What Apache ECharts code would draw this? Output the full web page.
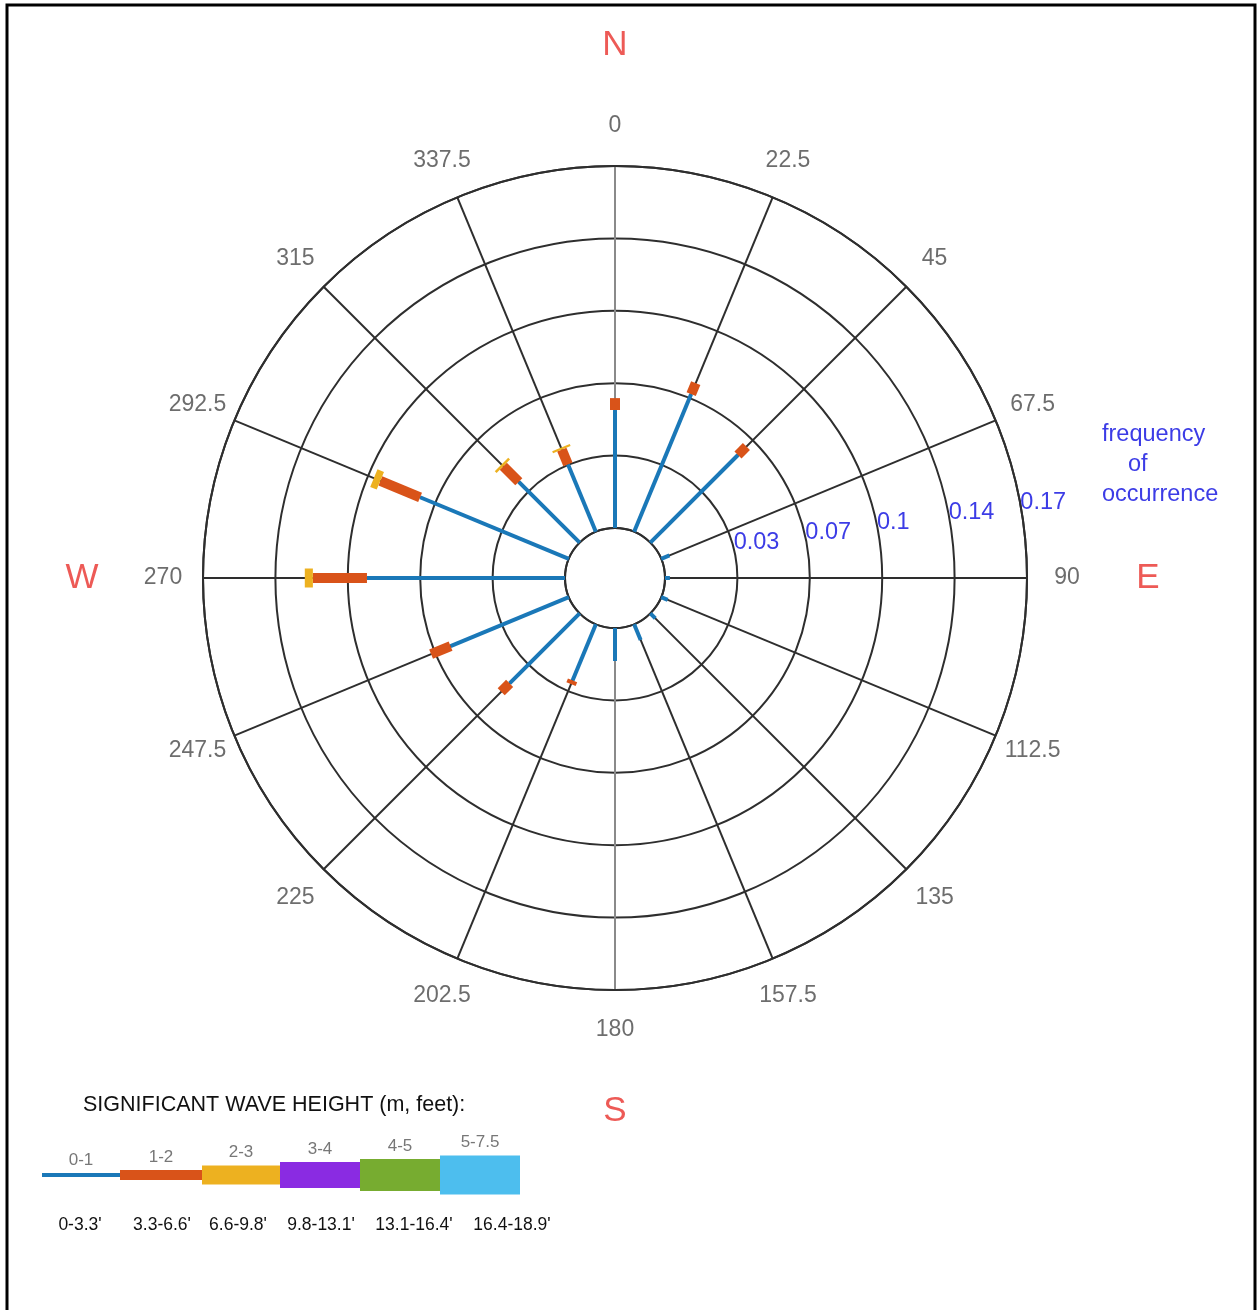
<!DOCTYPE html>
<html><head><meta charset="utf-8">
<script src="https://cdn.jsdelivr.net/npm/echarts@6/dist/echarts.min.js"></script>
<style>html,body{margin:0;padding:0;background:#fff}#c{width:1257px;height:1310px}</style>
</head><body><div id="c"></div>
<script>
// ---------- data ----------
const directions = [0, 22.5, 45, 67.5, 90, 112.5, 135, 157.5, 180, 202.5, 225, 247.5, 270, 292.5, 315, 337.5];
const angleTickLabels = ['0', '22.5', '45', '67.5', '90', '112.5', '135', '157.5', '180', '202.5', '225', '247.5', '270', '292.5', '315', '337.5'];
const compassLabels = ['N', 'E', 'S', 'W'];
const compassAngles = [0, 90, 180, 270];
const radialTickLabels = ['0.03', '0.07', '0.1', '0.14', '0.17'];
const heightBins = ['0-1', '1-2', '2-3', '3-4', '4-5', '5-7.5'];
const feetLabels = ["0-3.3'", "3.3-6.6'", "6.6-9.8'", "9.8-13.1'", "13.1-16.4'", "16.4-18.9'"];
// frequency of occurrence per direction, per wave height bin
const freq0to1 = [0.0554, 0.0700, 0.0582, 0.0042, 0.0023, 0.0033, 0.0033, 0.0080, 0.0155, 0.0286, 0.0465, 0.0601, 0.0930, 0.0756, 0.0404, 0.0343];
const freq1to2 = [0.0056, 0.0056, 0.0056, 0, 0, 0, 0, 0, 0, 0.0019, 0.0056, 0.0099, 0.0254, 0.0202, 0.0103, 0.0075];
const freq2to3 = [0, 0, 0, 0, 0, 0, 0, 0, 0, 0, 0, 0, 0.0038, 0.0033, 0.0012, 0.0010];
const freq3to4 = [0, 0, 0, 0, 0, 0, 0, 0, 0, 0, 0, 0, 0, 0, 0, 0];
const freq4to5 = [0, 0, 0, 0, 0, 0, 0, 0, 0, 0, 0, 0, 0, 0, 0, 0];
const freq5to75 = [0, 0, 0, 0, 0, 0, 0, 0, 0, 0, 0, 0, 0, 0, 0, 0];

// ---------- styles ----------
const binSeries = [freq0to1, freq1to2, freq2to3, freq3to4, freq4to5, freq5to75];
const binColors = ['#1a78b8', '#d95319', '#edb120', '#8a2be2', '#77ac30', '#4dbeee'];
const binWidths = [4, 10, 19, 26, 32, 39];
const FONT = 'Liberation Sans, Arial, sans-serif';
const CX = 615, CY = 578, R0 = 50, R1 = 412, RL = 533;
const RMAX = 0.17, RSTEP = 0.034;
const ANGLE_LABEL_R = 452 / 533;

const chart = echarts.init(document.getElementById('c'), null, { renderer: 'canvas' });

function binSeriesOption(b) {
  const data = [];
  directions.forEach((d, i) => {
    let start = 0;
    for (let k = 0; k < b; k++) start += binSeries[k][i];
    const v = binSeries[b][i];
    if (v > 0) data.push([d, start, start + v]);
  });
  return {
    type: 'custom',
    name: heightBins[b],
    coordinateSystem: 'polar',
    polarIndex: 0,
    silent: true,
    encode: { angle: 0, radius: [1, 2] },
    data: data,
    z: 5 + b,
    renderItem: function (params, api) {
      const a = api.value(0), s = api.value(1), e = api.value(2);
      const p0 = api.coord([s, a]);
      const p1 = api.coord([e, a]);
      let dx = p1[0] - p0[0], dy = p1[1] - p0[1];
      const len = Math.sqrt(dx * dx + dy * dy) || 1;
      dx /= len; dy /= len;
      const hw = binWidths[b] / 2;
      const nx = -dy * hw, ny = dx * hw;
      return {
        type: 'polygon',
        shape: { points: [[p0[0] + nx, p0[1] + ny], [p1[0] + nx, p1[1] + ny], [p1[0] - nx, p1[1] - ny], [p0[0] - nx, p0[1] - ny]] },
        style: { fill: binColors[b] }
      };
    }
  };
}

const spokeColors = directions.map(d => (d === 0 || d === 180) ? '#8a8a8a' : '#2e2e2e');

const series = [];
for (let b = 0; b < binSeries.length; b++) series.push(binSeriesOption(b));

// angle tick labels and compass letters on the label polar
series.push({
  type: 'scatter', coordinateSystem: 'polar', polarIndex: 2, silent: true,
  symbolSize: 1, itemStyle: { color: 'rgba(0,0,0,0)' },
  data: directions.map((d, i) => ({ value: [ANGLE_LABEL_R, d], name: angleTickLabels[i] })),
  label: { show: true, position: 'inside', formatter: p => p.name, color: '#484848', fontSize: 23, fontFamily: FONT }
});
series.push({
  type: 'scatter', coordinateSystem: 'polar', polarIndex: 2, silent: true,
  symbolSize: 1, itemStyle: { color: 'rgba(0,0,0,0)' },
  data: compassAngles.map((d, i) => ({ value: [1, d], name: compassLabels[i] })),
  label: { show: true, position: 'inside', formatter: p => p.name, color: '#e8312c', fontSize: 35, fontFamily: FONT }
});

// legend graphics
const legendEdges = [42, 120, 202, 280, 360, 440, 520];
const legendCY = 1175;
const feetX = [80, 162, 238, 321, 414, 512];
const BLUE = '#3c3ce6';
const graphic = [
  { type: 'rect', silent: true, shape: { x: 7, y: 5, width: 1248, height: 1340 }, style: { fill: null, stroke: '#000', lineWidth: 3 } },
  { type: 'text', silent: true, x: 1102, y: 435, style: { text: 'frequency', font: '23.5px ' + FONT, fill: BLUE, verticalAlign: 'middle' } },
  { type: 'text', silent: true, x: 1128, y: 465, style: { text: 'of', font: '23.5px ' + FONT, fill: BLUE, verticalAlign: 'middle' } },
  { type: 'text', silent: true, x: 1102, y: 495, style: { text: 'occurrence', font: '23.5px ' + FONT, fill: BLUE, verticalAlign: 'middle' } },
  { type: 'text', silent: true, x: 83, y: 1105, style: { text: 'SIGNIFICANT WAVE HEIGHT (m, feet):', font: '21.5px ' + FONT, fill: '#111', verticalAlign: 'middle' } }
];
heightBins.forEach((lab, i) => {
  const x0 = legendEdges[i], x1 = legendEdges[i + 1], h = binWidths[i];
  graphic.push({ type: 'rect', silent: true, shape: { x: x0, y: legendCY - h / 2, width: x1 - x0, height: h }, style: { fill: binColors[i] } });
  graphic.push({ type: 'text', silent: true, x: (x0 + x1) / 2, y: legendCY - h / 2 - 13, style: { text: lab, font: '17px ' + FONT, fill: '#777', align: 'center', verticalAlign: 'middle' } });
  graphic.push({ type: 'text', silent: true, x: feetX[i], y: 1225, style: { text: feetLabels[i], font: '17.5px ' + FONT, fill: '#111', align: 'center', verticalAlign: 'middle' } });
});

const option = {
  animation: false,
  backgroundColor: '#ffffff',
  polar: [
    { center: [CX, CY], radius: [R0, R1] },
    { center: [CX, CY], radius: [R0, R1] },
    { center: [CX, CY], radius: [0, RL] }
  ],
  angleAxis: [
    {
      polarIndex: 0, type: 'value', min: 0, max: 360, interval: 22.5, startAngle: 90, clockwise: true,
      axisLine: { show: true, lineStyle: { color: '#2e2e2e', width: 2 } },
      axisTick: { show: false }, axisLabel: { show: false },
      splitLine: { show: true, lineStyle: { color: spokeColors, width: 2 } }
    },
    { polarIndex: 1, type: 'value', min: 0, max: 360, startAngle: 8.1, show: false },
    { polarIndex: 2, type: 'value', min: 0, max: 360, startAngle: 90, clockwise: true, show: false }
  ],
  radiusAxis: [
    {
      polarIndex: 0, type: 'value', min: 0, max: RMAX, interval: RSTEP,
      axisLine: { show: false }, axisTick: { show: false }, axisLabel: { show: false },
      splitLine: { show: true, lineStyle: { color: '#2e2e2e', width: 2 } }
    },
    {
      polarIndex: 1, type: 'value', min: 0, max: RMAX, interval: RSTEP,
      axisLine: { show: false }, axisTick: { show: false }, splitLine: { show: false },
      axisLabel: {
        show: true, showMinLabel: false, align: 'left', verticalAlign: 'middle', margin: 18,
        color: BLUE, fontSize: 23.5, fontFamily: FONT,
        formatter: v => radialTickLabels[Math.round(v / RSTEP) - 1] || ''
      }
    },
    { polarIndex: 2, type: 'value', min: 0, max: 1, show: false }
  ],
  graphic: graphic,
  series: series
};
chart.setOption(option);
</script></body></html>
